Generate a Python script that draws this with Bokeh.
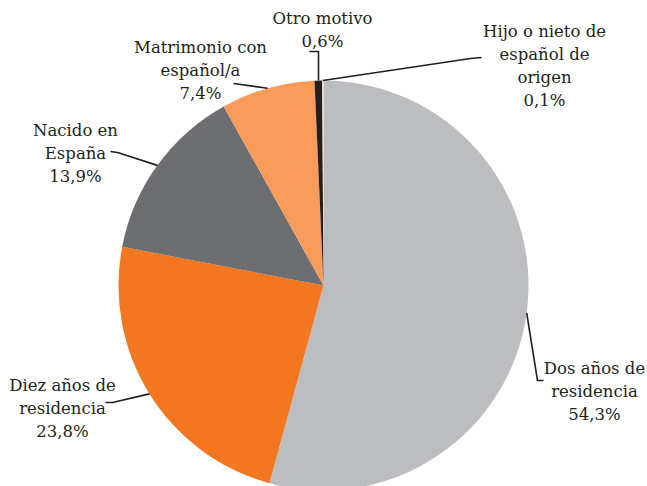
import math
from bokeh.plotting import figure
from bokeh.models import Range1d, ColumnDataSource
from bokeh.core.properties import value
from bokeh.embed import file_html
from bokeh.resources import INLINE

# ---- data ----
categories = ["Dos años de residencia", "Diez años de residencia", "Nacido en España",
              "Matrimonio con español/a", "Otro motivo", "Hijo o nieto de español de origen"]
values = [54.3, 23.8, 13.9, 7.4, 0.6, 0.1]
label_lines = [
    ["Dos años de", "residencia", "54,3%"],
    ["Diez años de", "residencia", "23,8%"],
    ["Nacido en", "España", "13,9%"],
    ["Matrimonio con", "español/a", "7,4%"],
    ["Otro motivo", "0,6%"],
    ["Hijo o nieto de", "español de", "origen", "0,1%"],
]
colors = ["#BCBDC0", "#F37621", "#6D6E71", "#F89B5B", "#231F20", "#F4D8C4"]

# ---- layout (screen pixel coordinates of the page) ----
CX, CY, R = 323, 285, 205
label_pos = [(594, 368), (62, 385), (75, 130), (200, 47), (322, 18), (544, 31)]
line_step = 23
leader_pts = [
    [(537, 380), (543, 380)],
    [(112, 402), (105, 402)],
    [(117, 152), (110, 151)],
    [(233, 83)],
    [(318, 51), (309, 51)],
    [(470, 58), (481, 57)],
]

FONT = "DejaVu Serif"
TXT = "#231F20"

p = figure(width=647, height=486, output_backend="svg", toolbar_location=None,
           x_range=Range1d(0, 647), y_range=Range1d(-486, 0), min_border=0)
p.axis.visible = False
p.grid.visible = False
p.outline_line_color = None
p.background_fill_color = "white"

total = sum(values)
cum = 0.0
starts, ends, mids = [], [], []
for v in values:
    a0 = math.pi / 2 - 2 * math.pi * cum / total
    cum += v
    a1 = math.pi / 2 - 2 * math.pi * cum / total
    starts.append(a1)
    ends.append(a0)
    mids.append((a0 + a1) / 2)

src = ColumnDataSource(dict(start=starts, end=ends, color=colors, cat=categories))
p.wedge(x=CX, y=-CY, radius=R, start_angle="start", end_angle="end",
        fill_color="color", line_color=None, source=src)

xs, ys = [], []
for i, (m, pts) in enumerate(zip(mids, leader_pts)):
    sx = CX + R * math.cos(m)
    sy = CY - R * math.sin(m)
    if categories[i].startswith("Otro"):
        sx = 318
    lx = [sx] + [q[0] for q in pts]
    ly = [-sy] + [-q[1] for q in pts]
    xs.append(lx)
    ys.append(ly)
p.multi_line(xs=xs, ys=ys, line_color=TXT, line_width=1.6)

tx, ty, tt = [], [], []
for (lx, ly), lines in zip(label_pos, label_lines):
    for i, t in enumerate(lines):
        tx.append(lx)
        ty.append(-(ly + i * line_step))
        tt.append(t)
p.text(x=tx, y=ty, text=tt, text_font=value(FONT), text_font_size="16.5px",
       text_color=TXT, text_align="center", text_baseline="middle")

open("out.html", "w").write(file_html(p, INLINE))
